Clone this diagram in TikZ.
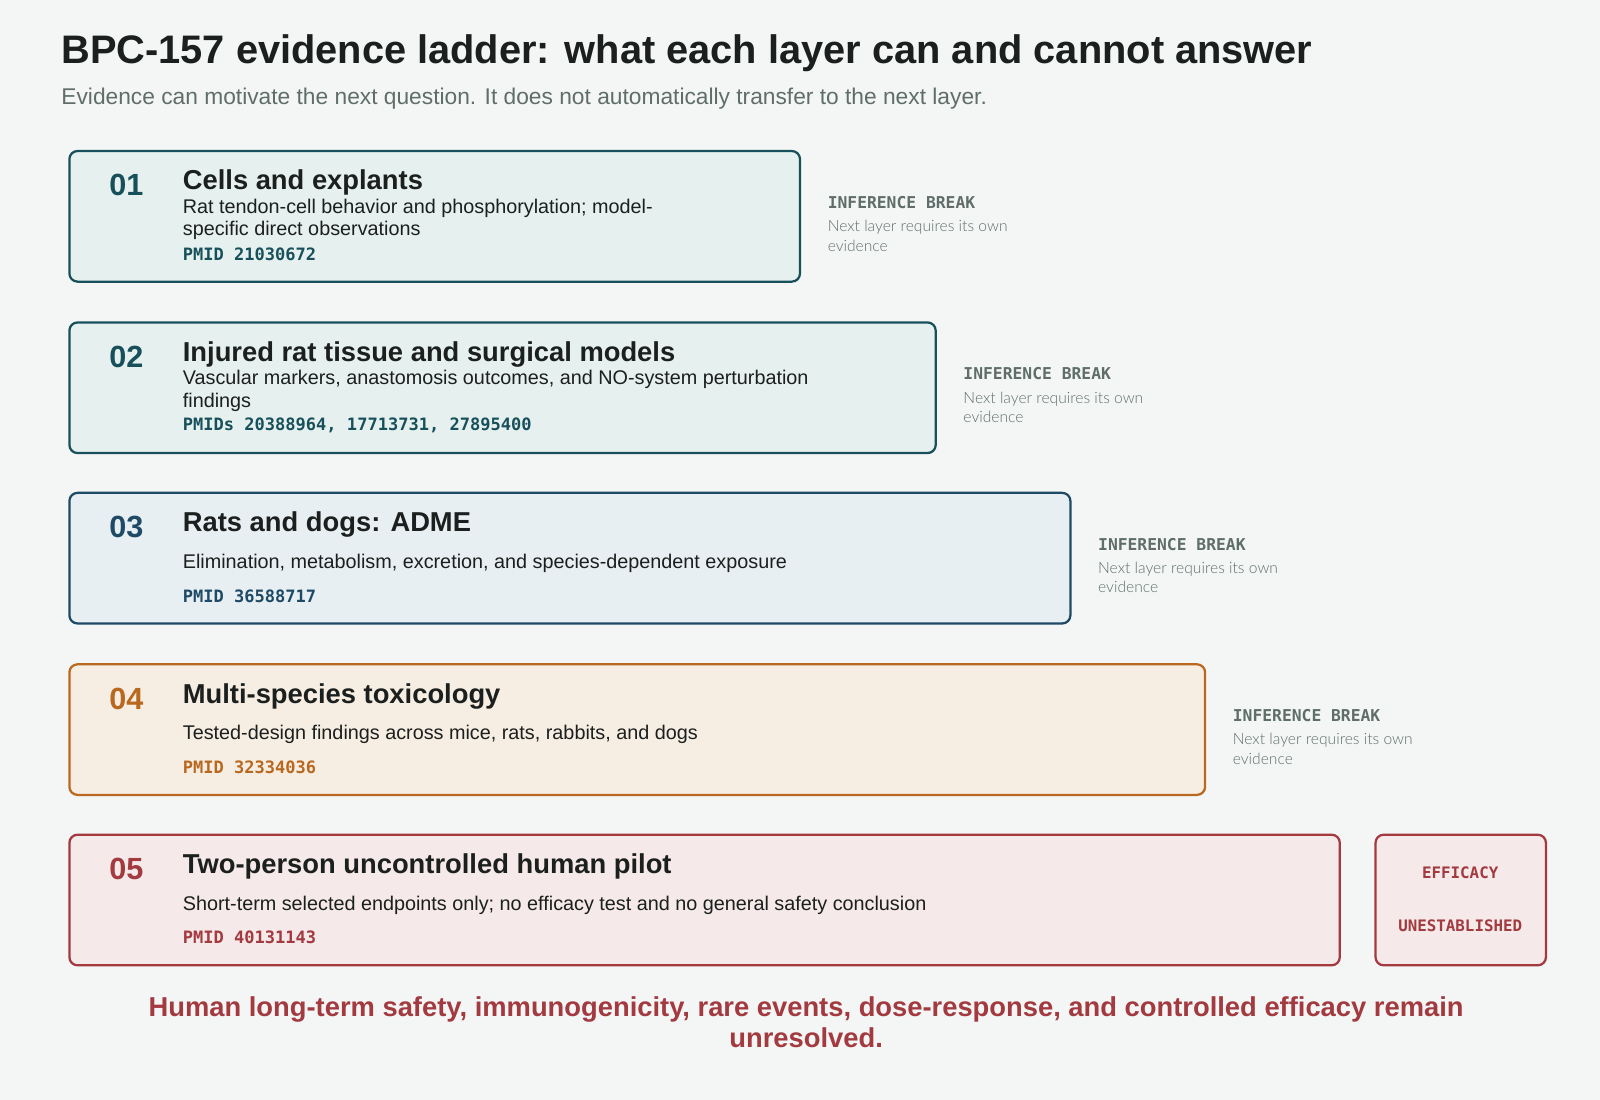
\documentclass[tikz,border=0pt]{standalone}
\usepackage{fontspec}
\setmainfont{Liberation Sans}
\setmonofont{DejaVu Sans Mono}
\newfontfamily\lightf{Lato Light}
\begin{document}
\definecolor{bg}{HTML}{F4F6F5}
\definecolor{ink}{HTML}{1B1F1E}
\definecolor{sub}{HTML}{5F6E6A}
\definecolor{teal}{HTML}{17505A}\definecolor{tealf}{HTML}{E6F1EF}
\definecolor{navy}{HTML}{1E4A66}\definecolor{navyf}{HTML}{E8EFF2}
\definecolor{ochre}{HTML}{B8681F}\definecolor{ochref}{HTML}{F6EEE3}
\definecolor{wine}{HTML}{A23A40}\definecolor{winef}{HTML}{F5E9E9}
\begin{tikzpicture}[x=1pt,y=-1pt,
  box/.style={draw=#1,line width=2.2pt,rounded corners=8pt},
  num/.style={anchor=base west,font=\fontsize{30}{30}\selectfont\bfseries,text=#1,inner sep=0},
  ttl/.style={anchor=base west,font=\fontsize{26.8}{26.8}\selectfont\bfseries,text=ink,inner sep=0},
  dsc/.style={anchor=base west,font=\fontsize{19.4}{19.4}\selectfont,text=ink,inner sep=0},
  pm/.style={anchor=base west,font=\fontsize{16.7}{16.7}\selectfont\ttfamily\bfseries,text=#1,inner sep=0},
  ibh/.style={anchor=base west,font=\fontsize{16}{16}\selectfont\ttfamily\bfseries,text=sub,inner sep=0},
  ibt/.style={anchor=base west,font=\fontsize{15.3}{15.3}\selectfont\lightf,text=sub,inner sep=0}]
\fill[bg] (0,0) rectangle (1568,1078);
\useasboundingbox (0,0) rectangle (1568,1078);
\node[anchor=base west,inner sep=0,font=\fontsize{39}{39}\selectfont\bfseries,text=ink] (title) at (60,62) {BPC-157 evidence ladder: what each layer can and cannot answer};
\node[anchor=base west,inner sep=0,font=\fontsize{22.3}{22}\selectfont,text=sub] (subt) at (60,102) {Evidence can motivate the next question. It does not automatically transfer to the next layer.};
% box 1
\draw[box=teal,fill=tealf] (68,148) rectangle (784,276);
\node[num=teal] (n1) at (107,192) {01};
\node[ttl] (t1) at (179,186) {Cells and explants};
\node[dsc] (d1a) at (179,209) {Rat tendon-cell behavior and phosphorylation; model-};
\node[dsc] (d1b) at (179,231) {specific direct observations};
\node[pm=teal] (p1) at (179,255) {PMID 21030672};
\node[ibh] (ih1) at (811,204) {INFERENCE BREAK};
\node[ibt] (it1a) at (811,227) {Next layer requires its own};
\node[ibt] (it1b) at (811,246) {evidence};
% box 2
\draw[box=teal,fill=tealf] (68,316) rectangle (917,444);
\node[num=teal] (n2) at (107,360) {02};
\node[ttl] (t2) at (179,354) {Injured rat tissue and surgical models};
\node[dsc] (d2a) at (179,377) {Vascular markers, anastomosis outcomes, and NO-system perturbation};
\node[dsc] (d2b) at (179,399) {findings};
\node[pm=teal] (p2) at (179,422) {PMIDs 20388964, 17713731, 27895400};
\node[ibh] (ih2) at (944,372) {INFERENCE BREAK};
\node[ibt] (it2a) at (944,395) {Next layer requires its own};
\node[ibt] (it2b) at (944,414) {evidence};
% box 3
\draw[box=navy,fill=navyf] (68,483) rectangle (1049,611);
\node[num=navy] (n3) at (107,527) {03};
\node[ttl] (t3) at (179,521) {Rats and dogs: ADME};
\node[dsc] (d3) at (179,557) {Elimination, metabolism, excretion, and species-dependent exposure};
\node[pm=navy] (p3) at (179,590) {PMID 36588717};
\node[ibh] (ih3) at (1076,539) {INFERENCE BREAK};
\node[ibt] (it3a) at (1076,562) {Next layer requires its own};
\node[ibt] (it3b) at (1076,581) {evidence};
% box 4
\draw[box=ochre,fill=ochref] (68,651) rectangle (1181,779);
\node[num=ochre] (n4) at (107,695) {04};
\node[ttl] (t4) at (179,689) {Multi-species toxicology};
\node[dsc] (d4) at (179,725) {Tested-design findings across mice, rats, rabbits, and dogs};
\node[pm=ochre] (p4) at (179,758) {PMID 32334036};
\node[ibh] (ih4) at (1208,707) {INFERENCE BREAK};
\node[ibt] (it4a) at (1208,730) {Next layer requires its own};
\node[ibt] (it4b) at (1208,749) {evidence};
% box 5
\draw[box=wine,fill=winef] (68,818) rectangle (1313,946);
\node[num=wine] (n5) at (107,862) {05};
\node[ttl] (t5) at (179,856) {Two-person uncontrolled human pilot};
\node[dsc] (d5) at (179,892) {Short-term selected endpoints only; no efficacy test and no general safety conclusion};
\node[pm=wine] (p5) at (179,925) {PMID 40131143};
\draw[box=wine,fill=winef] (1348,818) rectangle (1515,946);
\node[inner sep=0,font=\fontsize{15.5}{15.5}\selectfont\ttfamily\bfseries,text=wine] (e1) at (1431,855) {EFFICACY};
\node[inner sep=0,font=\fontsize{15.5}{15.5}\selectfont\ttfamily\bfseries,text=wine] (e2) at (1431,907) {UNESTABLISHED};
\node[align=center,inner sep=0,font=\fontsize{26.8}{30}\selectfont\bfseries,text=wine] (foot) at (790,1002) {Human long-term safety, immunogenicity, rare events, dose-response, and controlled efficacy remain\\unresolved.};
\end{tikzpicture}
\end{document}
